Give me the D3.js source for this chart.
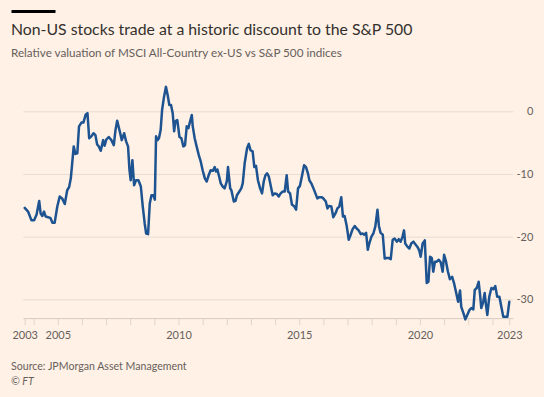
<!DOCTYPE html>
<html>
<head>
<meta charset="utf-8">
<script src="https://cdn.jsdelivr.net/npm/d3@7"></script>
<style>
  body { margin: 0; background: #fff1e5; }
  .chart text { font-family: Lato, "Noto Sans", sans-serif; }
</style>
</head>
<body>
<div class="chart"></div>
<script>
// relative valuation chart, MSCI ACWI ex-US vs S&P 500

// dates as decimal years
var years = [
  2003.63, 2003.77, 2003.91, 2004.02, 2004.12, 2004.23, 2004.29, 2004.36, 2004.43, 2004.50,
  2004.60, 2004.69, 2004.78, 2004.87, 2004.98, 2005.08, 2005.18, 2005.29, 2005.39, 2005.47,
  2005.54, 2005.59, 2005.66, 2005.73, 2005.81, 2005.88, 2005.98, 2006.06, 2006.16, 2006.23,
  2006.30, 2006.39, 2006.48, 2006.56, 2006.63, 2006.70, 2006.78, 2006.88, 2006.94, 2007.01,
  2007.11, 2007.22, 2007.32, 2007.39, 2007.46, 2007.58, 2007.65, 2007.75, 2007.83, 2007.91,
  2007.97, 2008.02, 2008.09, 2008.16, 2008.24, 2008.34, 2008.44, 2008.52, 2008.60, 2008.66,
  2008.74, 2008.81, 2008.88, 2008.96, 2009.02, 2009.07, 2009.13, 2009.19, 2009.26, 2009.32,
  2009.40, 2009.48, 2009.55, 2009.62, 2009.69, 2009.76, 2009.82, 2009.87, 2009.95, 2010.04,
  2010.12, 2010.20, 2010.27, 2010.34, 2010.41, 2010.48, 2010.55, 2010.59, 2010.67, 2010.75,
  2010.84, 2010.92, 2011.00, 2011.09, 2011.17, 2011.25, 2011.33, 2011.42, 2011.50, 2011.55,
  2011.61, 2011.67, 2011.75, 2011.83, 2011.91, 2012.00, 2012.05, 2012.14, 2012.19, 2012.29,
  2012.36, 2012.42, 2012.52, 2012.60, 2012.66, 2012.74, 2012.84, 2012.91, 2012.98, 2013.07,
  2013.14, 2013.21, 2013.29, 2013.38, 2013.46, 2013.53, 2013.60, 2013.67, 2013.74, 2013.82,
  2013.90, 2013.98, 2014.07, 2014.15, 2014.23, 2014.32, 2014.40, 2014.48, 2014.54, 2014.62,
  2014.70, 2014.78, 2014.87, 2014.95, 2015.03, 2015.12, 2015.20, 2015.28, 2015.36, 2015.42,
  2015.50, 2015.59, 2015.67, 2015.75, 2015.83, 2015.92, 2016.00, 2016.10, 2016.17, 2016.23,
  2016.33, 2016.41, 2016.50, 2016.58, 2016.66, 2016.74, 2016.81, 2016.88, 2016.97, 2017.05,
  2017.13, 2017.21, 2017.30, 2017.38, 2017.46, 2017.55, 2017.63, 2017.68, 2017.77, 2017.84,
  2017.90, 2017.99, 2018.07, 2018.15, 2018.24, 2018.30, 2018.37, 2018.46, 2018.54, 2018.62,
  2018.70, 2018.79, 2018.87, 2018.95, 2019.04, 2019.12, 2019.20, 2019.28, 2019.34, 2019.39,
  2019.48, 2019.56, 2019.64, 2019.73, 2019.81, 2019.89, 2019.97, 2020.03, 2020.11, 2020.20,
  2020.28, 2020.35, 2020.42, 2020.49, 2020.55, 2020.62, 2020.69, 2020.78, 2020.86, 2020.94,
  2021.00, 2021.08, 2021.16, 2021.24, 2021.33, 2021.41, 2021.49, 2021.58, 2021.66, 2021.71,
  2021.80, 2021.88, 2021.96, 2022.05, 2022.13, 2022.21, 2022.27, 2022.35, 2022.43, 2022.49,
  2022.54, 2022.62, 2022.68, 2022.74, 2022.79, 2022.87, 2022.96, 2023.04, 2023.12, 2023.20,
  2023.29, 2023.37, 2023.45, 2023.54, 2023.62, 2023.70
];

// relative valuation, %
var valuation = [
  -15.4, -16.0, -17.4, -17.4, -16.5, -14.3, -16.3, -16.7, -16.0, -16.8,
  -16.9, -17.0, -17.8, -17.8, -15.2, -13.6, -13.9, -14.8, -12.6, -12.1,
  -10.7, -8.6, -5.6, -6.8, -6.7, -2.4, -1.8, -1.8, -0.5, -0.3,
  -4.3, -4.0, -3.5, -3.8, -5.3, -5.6, -6.3, -4.6, -5.5, -4.5,
  -4.1, -4.6, -5.4, -3.0, -1.5, -3.4, -4.6, -3.5, -4.8, -5.6,
  -9.4, -11.0, -7.8, -11.8, -11.0, -11.0, -12.0, -15.2, -17.9, -19.5,
  -19.6, -14.7, -13.4, -13.4, -14.1, -4.0, -4.6, -4.3, -3.0, 0.2,
  2.3, 3.9, 2.6, 1.0, 1.0, -0.3, -3.2, -1.6, -1.4, -4.1,
  -4.3, -5.6, -5.4, -2.4, -2.7, -1.6, -0.6, -2.4, -4.3, -5.6,
  -7.0, -8.0, -9.4, -10.7, -11.2, -10.2, -9.4, -9.5, -8.9, -9.6,
  -9.3, -10.2, -11.5, -12.0, -12.3, -11.2, -8.9, -12.3, -12.6, -14.4,
  -14.3, -13.4, -12.8, -12.3, -11.5, -8.3, -5.9, -5.2, -6.2, -6.4,
  -8.9, -8.7, -11.0, -12.3, -13.1, -11.2, -10.2, -9.9, -10.4, -11.9,
  -13.4, -13.1, -13.2, -13.6, -13.1, -12.8, -12.8, -10.2, -12.8, -13.1,
  -14.9, -15.1, -15.7, -12.3, -11.9, -10.2, -8.6, -8.9, -9.9, -11.0,
  -11.5, -12.3, -13.1, -13.9, -13.7, -13.7, -13.9, -14.4, -15.5, -15.1,
  -15.2, -16.9, -16.3, -15.5, -15.2, -13.7, -16.8, -16.7, -18.4, -20.5,
  -19.7, -18.8, -18.3, -18.7, -19.0, -19.6, -19.5, -19.7, -19.4, -22.1,
  -21.1, -20.0, -19.5, -18.4, -15.7, -18.3, -19.4, -19.7, -23.5, -23.4,
  -23.4, -23.6, -20.5, -20.3, -20.8, -20.4, -20.8, -20.0, -19.0, -21.1,
  -21.6, -21.9, -21.1, -20.8, -21.2, -21.6, -22.2, -23.2, -21.1, -20.6,
  -27.4, -27.2, -23.2, -23.4, -25.6, -24.0, -24.0, -23.7, -24.1, -25.6,
  -22.9, -24.0, -25.6, -26.8, -26.4, -27.4, -28.8, -30.4, -28.6, -31.2,
  -32.2, -33.2, -32.5, -31.7, -31.4, -31.6, -28.5, -28.2, -27.2, -29.3,
  -31.4, -30.4, -29.0, -31.1, -32.5, -29.6, -28.2, -28.4, -27.9, -29.6,
  -29.6, -31.2, -32.8, -32.8, -32.8, -30.4
];

var yTicks = [0, -10, -20, -30];
var xLabelYears = [2005, 2010, 2015, 2020];
var xMinorYears = d3.range(2004, 2024);
var firstLabel = "2003";
var lastLabel = "2023";

var title = "Non-US stocks trade at a historic discount to the S&P 500";
var subtitle = "Relative valuation of MSCI All-Country ex-US vs S&P 500 indices";
var source = "Source: JPMorgan Asset Management";

var svgWidth = 544;
var svgHeight = 397;

var svg = d3.select(".chart")
  .append("svg")
  .attr("width", svgWidth)
  .attr("height", svgHeight)
  .style("display", "block");

svg.append("rect")
  .attr("width", svgWidth)
  .attr("height", svgHeight)
  .attr("fill", "#fff1e5");

// header
svg.append("rect")
  .attr("x", 11.5)
  .attr("y", 10)
  .attr("width", 44)
  .attr("height", 3)
  .attr("fill", "#000");

svg.append("text")
  .attr("x", 11)
  .attr("y", 35)
  .attr("fill", "#33302e")
  .style("font-size", "15.8px")
  .text(title);

svg.append("text")
  .attr("x", 11)
  .attr("y", 57)
  .attr("fill", "#66605c")
  .style("font-size", "11.7px")
  .text(subtitle);

// scales
var xDomain = d3.extent(years);
var xScale = d3.scaleLinear()
  .domain(xDomain)
  .range([24.7, 509.3]);

var yMin = -33;
var yScale = d3.scaleLinear()
  .domain([-30, 0])
  .range([299.3, 111.3]);

var chartGroup = svg.append("g");

// gridlines + y labels on the right
var yAxis = d3.axisRight(yScale)
  .tickValues(yTicks)
  .tickSize(490)
  .tickPadding(20)
  .tickFormat(d => d3.format("d")(d).replace("−", "-"));

var yAxisGroup = chartGroup.append("g")
  .attr("transform", "translate(23.3, 0)")
  .call(yAxis);
yAxisGroup.select(".domain").remove();
yAxisGroup.selectAll(".tick line").attr("stroke", "#e8dbcf");
yAxisGroup.selectAll(".tick text")
  .attr("x", 510)
  .attr("text-anchor", "end")
  .attr("fill", "#66605c")
  .style("font-size", "11px");

// x axis with minor year ticks
var xTickValues = [xDomain[0]].concat(xMinorYears, [xDomain[1]]);
var xAxis = d3.axisBottom(xScale)
  .tickValues(xTickValues)
  .tickSize(7)
  .tickPadding(6)
  .tickFormat(function(d) {
    if (d === xDomain[0]) return firstLabel;
    if (d === xDomain[1]) return lastLabel;
    return xLabelYears.indexOf(d) >= 0 ? String(d) : "";
  });

var xAxisGroup = chartGroup.append("g")
  .attr("transform", `translate(0, ${yScale(yMin)})`)
  .call(xAxis);
xAxisGroup.select(".domain")
  .attr("d", `M23.3,0.5H513.3`)
  .attr("stroke", "#d6cabf");
xAxisGroup.selectAll(".tick line").attr("stroke", "#e0d3c7");
xAxisGroup.selectAll(".tick text")
  .attr("fill", "#66605c")
  .style("font-size", "11px");

// line
var points = years.map((y, i) => [y, valuation[i]]);
var line = d3.line()
  .x(d => xScale(d[0]))
  .y(d => yScale(d[1]));

chartGroup.append("path")
  .datum(points)
  .attr("d", line)
  .attr("fill", "none")
  .attr("stroke", "#1d5391")
  .attr("stroke-width", 2.5)
  .attr("stroke-linejoin", "round")
  .attr("stroke-linecap", "round");

// footer
svg.append("text")
  .attr("x", 11)
  .attr("y", 370)
  .attr("fill", "#66605c")
  .style("font-size", "10.6px")
  .text(source);

svg.append("text")
  .attr("x", 11)
  .attr("y", 385)
  .attr("fill", "#66605c")
  .style("font-size", "10.6px")
  .style("font-style", "italic")
  .text("© FT");
</script>
</body>
</html>
